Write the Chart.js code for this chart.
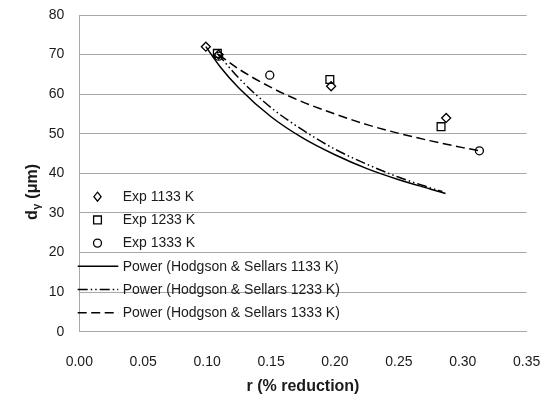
<!DOCTYPE html>
<html lang="en">
<head>
<meta charset="UTF-8">
<title>Grain size vs reduction</title>
<script src="https://cdn.jsdelivr.net/npm/chart.js"></script>
<style>
  html, body { margin: 0; padding: 0; background: #fff; }
  #wrap { width: 545px; height: 401px; }
</style>
</head>
<body>
<div id="wrap"><canvas id="grainChart" width="545" height="401"></canvas></div>
<script>
// experimental points (r, d)
const exp1133R = [0.099, 0.109, 0.197, 0.287];
const exp1133D = [72.0, 70.0, 62.0, 54.0];
const exp1233R = [0.108, 0.196, 0.283];
const exp1233D = [70.3, 63.7, 51.8];
const exp1333R = [0.109, 0.149, 0.313];
const exp1333D = [69.6, 64.8, 45.7];

// Hodgson & Sellars power curves
const hs1133R = [0.099, 0.110, 0.125, 0.150, 0.175, 0.200, 0.225, 0.250, 0.275, 0.2865];
const hs1133D = [72.0, 67.0, 61.5, 54.3, 48.9, 44.7, 41.2, 38.4, 36.0, 34.9];
const hs1233R = [0.108, 0.125, 0.150, 0.175, 0.200, 0.225, 0.250, 0.275, 0.284];
const hs1233D = [70.3, 64.0, 56.6, 50.9, 46.1, 42.3, 39.0, 36.3, 35.4];
const hs1333R = [0.109, 0.125, 0.150, 0.175, 0.200, 0.225, 0.250, 0.275, 0.300, 0.3135];
const hs1333D = [70.0, 66.3, 61.7, 58.0, 55.0, 52.3, 50.1, 48.2, 46.5, 45.7];

const xTicks = [0, 0.05, 0.10, 0.15, 0.20, 0.25, 0.30, 0.35];
const yTicks = [0, 10, 20, 30, 40, 50, 60, 70, 80];

const pts = (xs, ys) => xs.map((x, i) => ({ x: x, y: ys[i] }));

Chart.defaults.font.family = '"Liberation Sans", Arial, sans-serif';
Chart.defaults.font.size = 14;
Chart.defaults.color = '#1a1a1a';

const gridGrey = '#a8a8a8';

function markerSet(label, xs, ys, style, radius) {
    return {
        label: label, data: pts(xs, ys), showLine: false,
        pointStyle: style, pointRadius: radius, pointHoverRadius: radius,
        pointBackgroundColor: 'rgba(255,255,255,0)', pointBorderColor: '#000',
        pointBorderWidth: 1.3, order: 0
    };
}
function curveSet(label, xs, ys, dash) {
    return {
        label: label, data: pts(xs, ys), showLine: true,
        borderColor: '#000', borderWidth: 1.5, borderDash: dash,
        pointRadius: 0, tension: 0.4, cubicInterpolationMode: 'monotone',
        fill: false, order: 1
    };
}

// legend drawn inside the plot, lower left
const insideLegend = {
    id: 'insideLegend',
    afterDraw(chart) {
        const ctx = chart.ctx;
        const y0 = 196.7, step = 23.2;
        ctx.save();
        ctx.font = '14px "Liberation Sans", Arial, sans-serif';
        ctx.fillStyle = '#1a1a1a';
        ctx.textBaseline = 'middle';
        chart.data.datasets.forEach((ds, i) => {
            const y = y0 + i * step;
            ctx.strokeStyle = '#000';
            if (ds.showLine) {
                ctx.lineWidth = 1.5;
                ctx.setLineDash(ds.borderDash || []);
                ctx.beginPath();
                ctx.moveTo(77.7, y);
                ctx.lineTo(118.3, y);
                ctx.stroke();
                ctx.setLineDash([]);
            } else {
                ctx.lineWidth = 1.3;
                const cx = 97.5, r = ds.pointRadius;
                ctx.beginPath();
                if (ds.pointStyle === 'rectRot') {
                    ctx.moveTo(cx, y - r); ctx.lineTo(cx + r * 0.8, y);
                    ctx.lineTo(cx, y + r); ctx.lineTo(cx - r * 0.8, y);
                    ctx.closePath();
                } else if (ds.pointStyle === 'rect') {
                    const s = r * Math.SQRT1_2;
                    ctx.rect(cx - s, y - s, 2 * s, 2 * s);
                } else {
                    ctx.arc(cx, y, r, 0, Math.PI * 2);
                }
                ctx.stroke();
            }
            ctx.fillText(ds.label, 122.7, y + 0.5);
        });

        // axis titles
        ctx.font = 'bold 16px "Liberation Sans", Arial, sans-serif';
        ctx.textAlign = 'center';
        ctx.textBaseline = 'middle';
        const area = chart.chartArea;
        ctx.fillText('r (% reduction)', (area.left + area.right) / 2, 387);

        ctx.translate(33, 192);
        ctx.rotate(-Math.PI / 2);
        ctx.textAlign = 'left';
        const partA = 'd', partB = 'γ', partC = ' (μm)';
        const big = 'bold 16px "Liberation Sans", Arial, sans-serif';
        const small = 'bold 11px "Liberation Sans", Arial, sans-serif';
        ctx.font = big;
        const wA = ctx.measureText(partA).width, wC = ctx.measureText(partC).width;
        ctx.font = small;
        const wB = ctx.measureText(partB).width + 1;
        let x = -(wA + wB + wC) / 2;
        ctx.font = big; ctx.fillText(partA, x, 0); x += wA;
        ctx.font = small; ctx.fillText(partB, x + 0.5, 4); x += wB;
        ctx.font = big; ctx.fillText(partC, x, 0);
        ctx.restore();
    }
};

new Chart(document.getElementById('grainChart'), {
    type: 'scatter',
    data: {
        datasets: [
            markerSet('Exp 1133 K', exp1133R, exp1133D, 'rectRot', 4.5),
            markerSet('Exp 1233 K', exp1233R, exp1233D, 'rect', 5.5),
            markerSet('Exp 1333 K', exp1333R, exp1333D, 'circle', 4),
            curveSet('Power (Hodgson & Sellars 1133 K)', hs1133R, hs1133D, []),
            curveSet('Power (Hodgson & Sellars 1233 K)', hs1233R, hs1233D, [10, 3, 1.5, 3, 1.5, 3]),
            curveSet('Power (Hodgson & Sellars 1333 K)', hs1333R, hs1333D, [9, 4.5])
        ]
    },
    options: {
        responsive: false,
        animation: false,
        layout: { autoPadding: false, padding: { top: 15, right: 18.3, left: 0, bottom: 0 } },
        plugins: { legend: { display: false }, tooltip: { enabled: false } },
        scales: {
            x: {
                type: 'linear', min: 0, max: 0.35,
                afterBuildTicks: s => { s.ticks = xTicks.map(v => ({ value: v })); },
                // tick padding would otherwise be added to the label overhang
                afterFit: s => { s.height = 69.3; s.paddingLeft = 0; s.paddingRight = 0; },
                ticks: { padding: 22, maxRotation: 0, callback: v => Number(v).toFixed(2) },
                grid: { display: false, drawTicks: false },
                border: { display: true, color: gridGrey, width: 1 }
            },
            y: {
                type: 'linear', min: 0, max: 80,
                afterBuildTicks: s => { s.ticks = yTicks.map(v => ({ value: v })); },
                afterFit: s => { s.width = 79.3; s.paddingTop = 0; s.paddingBottom = 0; },
                ticks: { padding: 15 },
                grid: { color: gridGrey, lineWidth: 1, drawTicks: false },
                border: { display: true, color: gridGrey, width: 1 }
            }
        }
    },
    plugins: [insideLegend]
});
</script>
</body>
</html>
